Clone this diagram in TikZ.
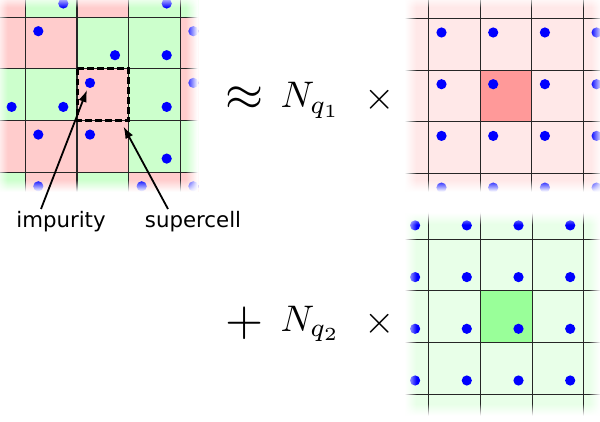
\documentclass[tikz,border=0pt]{standalone}
\usepackage{fontspec}
\newfontfamily\labelfont{DejaVu Sans}
\usetikzlibrary{arrows.meta}
\definecolor{cellred}{HTML}{FFCCCC}
\definecolor{cellgreen}{HTML}{CCFFCC}
\definecolor{palered}{HTML}{FFE8E8}
\definecolor{palegreen}{HTML}{E8FFE8}
\definecolor{hired}{HTML}{FF9999}
\definecolor{higreen}{HTML}{99FF99}
\definecolor{dotblue}{HTML}{0000FF}
\tikzset{
  gridline/.style={draw=black!85, line width=1.1pt},
  atom/.style={fill=dotblue},
  supercellbox/.style={draw=black, line width=3pt, dash pattern=on 6.5pt off 3.5pt},
  pointer/.style={draw=black, line width=1.8pt, -{Latex[length=12pt,width=8.5pt]}},
  labeltext/.style={font=\labelfont\fontsize{21.3}{25}\selectfont, inner sep=0pt, anchor=base},
  mathbig/.style={inner sep=0pt},
}
\newcommand\panelfade[4]{%
  \foreach \i in {0,...,11}{%
    \pgfmathsetmacro\op{1-(\i+0.5)/12}%
    \fill[white,opacity=\op] ({#1+\i},{#2}) rectangle ({#1+\i+1},{#4});
    \fill[white,opacity=\op] ({#3-\i},{#2}) rectangle ({#3-\i-1},{#4});
    \fill[white,opacity=\op] ({#1},{#2+\i}) rectangle ({#3},{#2+\i+1});
    \fill[white,opacity=\op] ({#1},{#4-\i}) rectangle ({#3},{#4-\i-1});
  }}
\begin{document}
\begin{tikzpicture}[x=1pt,y=-1pt]
\useasboundingbox (0,0) rectangle (600,422);
\fill[white] (0,0) rectangle (600,422);

% ---------- left panel (mixed) ----------
\begin{scope}
\clip (-4,-4) rectangle (198,192);
\foreach \c/\r in {0/0,2/0,0/1,1/1,4/1,2/2,4/2,0/3,1/3,2/3,1/4,3/4,4/4}{
  \pgfmathsetmacro\xa{25.3+(\c-1)*51.7}
  \pgfmathsetmacro\ya{17.2+(\r-1)*51.7}
  \fill[cellred] (\xa,\ya) rectangle ++(51.7,51.7);
}
\foreach \c/\r in {1/0,3/0,4/0,2/1,3/1,0/2,1/2,3/2,3/3,4/3,0/4,2/4}{
  \pgfmathsetmacro\xa{25.3+(\c-1)*51.7}
  \pgfmathsetmacro\ya{17.2+(\r-1)*51.7}
  \fill[cellgreen] (\xa,\ya) rectangle ++(51.7,51.7);
}
\foreach \k in {0,...,3}{
  \draw[gridline] ({25.3+\k*51.7},-4) -- ({25.3+\k*51.7},192);
  \draw[gridline] (-4,{17.2+\k*51.7}) -- (198,{17.2+\k*51.7});
}
\foreach \c/\r in {0/0,2/0,0/1,1/1,4/1,2/2,4/2,0/3,1/3,2/3,1/4,3/4,4/4}{
  \pgfmathsetmacro\xa{25.3+(\c-1)*51.7}
  \pgfmathsetmacro\ya{17.2+(\r-1)*51.7}
  \fill[atom] (\xa+13,\ya+14) circle (5.1);
}
\foreach \c/\r in {1/0,3/0,4/0,2/1,3/1,0/2,1/2,3/2,3/3,4/3,0/4,2/4}{
  \pgfmathsetmacro\xa{25.3+(\c-1)*51.7}
  \pgfmathsetmacro\ya{17.2+(\r-1)*51.7}
  \fill[atom] (\xa+38,\ya+38) circle (5.1);
}
\end{scope}
\panelfade{-4}{-4}{198}{192}

% ---------- top right panel (pale red) ----------
\begin{scope}
\clip (405,-4) rectangle (603,192);
\fill[palered] (405,-4) rectangle (603,192);
\fill[hired] (480.2,70.2) rectangle ++(51.7,51.7);
\foreach \k in {0,...,3}{
  \draw[gridline] ({428.5+\k*51.7},-4) -- ({428.5+\k*51.7},192);
  \draw[gridline] (405,{18.5+\k*51.7}) -- (603,{18.5+\k*51.7});
}
\foreach \c in {0,...,3}{
  \foreach \r in {0,...,3}{
    \fill[atom] ({428.5+\c*51.7+13},{18.5+\r*51.7+14}) circle (5.1);
  }
}
\end{scope}
\panelfade{405}{-4}{603}{192}

% ---------- bottom right panel (pale green) ----------
\begin{scope}
\clip (405,213) rectangle (601,416);
\fill[palegreen] (405,213) rectangle (601,416);
\fill[higreen] (480.5,290.8) rectangle ++(51.7,51.7);
\foreach \k in {0,...,3}{
  \draw[gridline] ({428.8+\k*51.7},213) -- ({428.8+\k*51.7},416);
  \draw[gridline] (405,{239.1+\k*51.7}) -- (601,{239.1+\k*51.7});
}
\foreach \c in {0,...,3}{
  \foreach \r in {0,...,3}{
    \fill[atom] ({428.8+(\c-1)*51.7+38},{239.1+(\r-1)*51.7+38}) circle (5.1);
  }
}
\end{scope}
\panelfade{405}{213}{601}{416}

% ---------- supercell box and labels ----------
\draw[supercellbox] (77,68.9) rectangle (128.7,120.6);
\coordinate (impuritytip) at (87,90);
\coordinate (supercelltip) at (123.5,126.5);
\node[labeltext] (implabel) at (61,228) {impurity};
\node[labeltext] (suplabel) at (193,228) {supercell};
\coordinate (impstart) at (41,209);
\coordinate (supstart) at (168,209);
\draw[pointer] (impstart) -- (impuritytip);
\draw[pointer] (supstart) -- (supercelltip);

% ---------- equation ----------
\node[mathbig, scale=4.9] (approx) at (245,99) {$\approx$};
\node[mathbig, scale=3.7, anchor=base west] (nq1) at (280,108) {$N_{q_1}$};
\node[mathbig, scale=3.9] (times1) at (380,100) {$\times$};
\node[mathbig, scale=4.9] (plus) at (245,323) {$+$};
\node[mathbig, scale=3.7, anchor=base west] (nq2) at (280,331) {$N_{q_2}$};
\node[mathbig, scale=3.9] (times2) at (380,324) {$\times$};
\end{tikzpicture}
\end{document}
